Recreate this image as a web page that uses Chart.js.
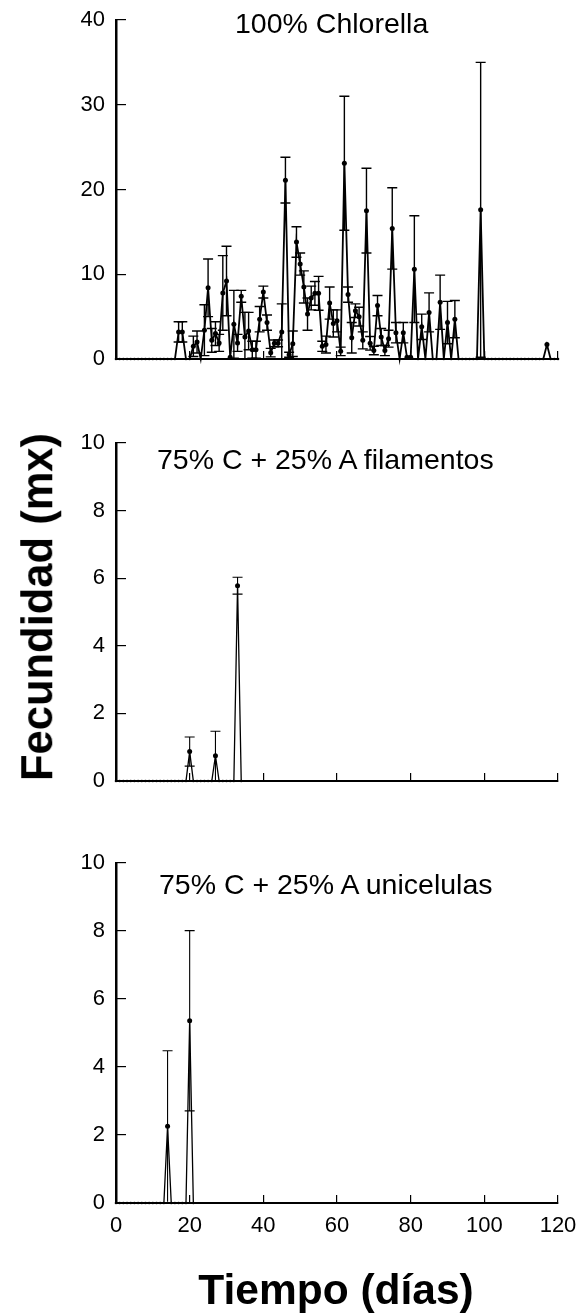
<!DOCTYPE html>
<html>
<head>
<meta charset="utf-8">
<script src="https://cdn.jsdelivr.net/npm/chart.js@4.4.1/dist/chart.umd.min.js"></script>
<style>
  html, body { margin: 0; padding: 0; background: #fff; }
  body { width: 579px; height: 1316px; position: relative; overflow: hidden;
         font-family: 'Liberation Sans', Arial, sans-serif; color: #000; }
  canvas { position: absolute; left: 0; }
  .ttl { position: absolute; font-size: 28.5px; line-height: 1; white-space: nowrap; }
  .axt { position: absolute; font-weight: bold; line-height: 1; white-space: nowrap; }
</style>
</head>
<body>
<canvas id="c1" width="579" height="390" style="top:0px"></canvas>
<canvas id="c2" width="579" height="410" style="top:400px"></canvas>
<canvas id="c3" width="579" height="496" style="top:820px"></canvas>

<div class="ttl" style="left:235px; top:9px;">100% Chlorella</div>
<div class="ttl" style="left:157px; top:445px;">75% C + 25% A filamentos</div>
<div class="ttl" style="left:159px; top:870px;">75% C + 25% A unicelulas</div>

<div class="axt" style="font-size:42.5px; left:336px; top:1269px; transform:translateX(-50%);">Tiempo (días)</div>
<div class="axt" style="font-size:43.5px; left:38px; top:607px; transform:translate(-50%,-50%) rotate(-90deg);">Fecundidad (mx)</div>

<script>
// ---------- DATA ----------
const xTicks = [0, 20, 40, 60, 80, 100, 120];

// 100% Chlorella : mean mx per day (day 0 .. 120)
const meanChlorella = [
  0,0,0,0,0,0,0,0,0,0,          // 0-9
  0,0,0,0,0,0,0,3.2,3.2,0,      // 10-19
  0,1.5,2.0,0,3.4,8.4,2.2,3.0,1.9,7.8,   // 20-29
  9.2,0.2,4.1,1.9,7.4,2.6,3.3,1.1,1.1,4.7, // 30-39
  7.9,4.3,0.75,1.85,1.85,3.2,21.1,0.5,1.8,13.8, // 40-49
  11.2,8.5,5.3,7.2,7.75,7.75,1.5,1.7,6.6,4.2,  // 50-59
  4.5,0.9,23.1,7.6,2.5,5.7,5.0,2.2,17.5,1.85, // 60-69
  1.0,6.3,2.6,1.0,2.4,15.4,3.1,0,3.1,0.2,    // 70-79
  0.2,10.6,0,3.8,0,5.5,0,0,6.7,0,            // 80-89
  4.3,0,4.7,0,0,0,0,0,0,17.6,                // 90-99
  0,0,0,0,0,0,0,0,0,0,                       // 100-109
  0,0,0,0,0,0,0,1.7,0,0,                     // 110-119
  0                                          // 120
];
const sdChlorella = [
  0,0,0,0,0,0,0,0,0,0,
  0,0,0,0,0,0,0,1.2,1.2,0,
  0,1.2,1.3,0,3.0,3.4,1.4,1.4,1.0,4.4,
  4.1,0,4.0,1.0,0.7,2.9,2.2,1.0,1.0,1.5,
  0.7,0.9,0.5,0.4,0.4,3.3,2.7,0.3,1.5,1.8,
  1.3,1.9,1.9,1.4,1.4,2.0,0.6,1.0,1.9,1.6,
  1.3,0.5,7.9,0.9,1.8,0.8,1.1,1.0,5.0,0.8,
  0.5,1.2,1.0,0.6,1.0,4.8,1.2,0,1.2,0,
  0,6.3,0,1.5,0,2.3,0,0,3.2,0,
  2.5,0,2.2,0,0,0,0,0,0,17.4,
  0,0,0,0,0,0,0,0,0,0,
  0,0,0,0,0,0,0,0,0,0,
  0
];

// 75% C + 25% A filamentos (days 0..34)
const meanFilamentos = [
  0,0,0,0,0,0,0,0,0,0,
  0,0,0,0,0,0,0,0,0,0,
  0.87,0,0,0,0,0,0,0.75,0,0,
  0,0,0,5.78,0
];
const sdFilamentos = [
  0,0,0,0,0,0,0,0,0,0,
  0,0,0,0,0,0,0,0,0,0,
  0.43,0,0,0,0,0,0,0.72,0,0,
  0,0,0,0.25,0
];

// 75% C + 25% A unicelulas (days 0..21)
const meanUnicelulas = [
  0,0,0,0,0,0,0,0,0,0,
  0,0,0,0,2.26,0,0,0,0,0,
  5.36,0
];
const sdUnicelulas = [
  0,0,0,0,0,0,0,0,0,0,
  0,0,0,0,2.22,0,0,0,0,0,
  2.65,0
];

const yTicksTop = [0, 10, 20, 30, 40];
const yTicksLow = [0, 2, 4, 6, 8, 10];

// ---------- CHARTS ----------
const FONT = "'Liberation Sans', Arial, sans-serif";
Chart.defaults.font.family = FONT;
Chart.defaults.color = '#000';

const errorBars = {
  id: 'errorBars',
  afterDatasetsDraw(chart) {
    const ds = chart.data.datasets[0];
    const xs = chart.scales.x, ys = chart.scales.y;
    const ctx = chart.ctx;
    ctx.save();
    ctx.strokeStyle = '#000';
    ctx.lineWidth = ds.errWidth;
    ds.data.forEach((p, i) => {
      const e = ds.errors[i];
      if (!e) return;
      const px = xs.getPixelForValue(p.x);
      const top = ys.getPixelForValue(p.y + e);
      const lowV = p.y - e;
      const bot = ys.getPixelForValue(Math.max(0, lowV));
      const cw = 5;
      ctx.beginPath();
      ctx.moveTo(px, top); ctx.lineTo(px, bot);
      ctx.moveTo(px - cw, top); ctx.lineTo(px + cw, top);
      if (lowV > 0.05) { ctx.moveTo(px - cw, bot); ctx.lineTo(px + cw, bot); }
      ctx.stroke();
    });
    ctx.restore();
  }
};

function makeChart(id, mean, sd, yTicks, padTop, xHeight, showX, lw, ew) {
  const pts = mean.map((v, i) => ({ x: i, y: v }));
  const yMax = yTicks[yTicks.length - 1];
  return new Chart(document.getElementById(id), {
    type: 'line',
    data: {
      datasets: [{
        data: pts,
        errors: sd,
        errWidth: ew,
        borderColor: '#000',
        borderWidth: lw,
        backgroundColor: '#000',
        pointBackgroundColor: '#000',
        pointBorderWidth: 0,
        pointRadius: ctx => (ctx.raw && ctx.raw.y > 0 ? 2.5 : 1.3),
        tension: 0,
        clip: false,
        fill: false
      }]
    },
    options: {
      responsive: false,
      animation: false,
      events: [],
      layout: { padding: { top: padTop, right: 21, left: 0, bottom: 0 } },
      plugins: { legend: { display: false }, tooltip: { enabled: false }, title: { display: false } },
      scales: {
        x: {
          type: 'linear', min: 0, max: 120,
          afterBuildTicks: s => { s.ticks = xTicks.map(v => ({ value: v })); },
          ticks: {
            padding: 18,
            font: { size: 22 },
            color: '#000',
            maxRotation: 0,
            callback: v => (showX ? String(v) : '')
          },
          grid: { drawOnChartArea: false, drawTicks: true, tickLength: -8, color: '#000', lineWidth: 1.2 },
          border: { display: true, color: '#000', width: 2 },
          afterFit: s => { s.height = xHeight; s.paddingLeft = 0; s.paddingRight = 0; }
        },
        y: {
          type: 'linear', min: 0, max: yMax,
          afterBuildTicks: s => { s.ticks = yTicks.map(v => ({ value: v })); },
          ticks: { padding: 21, font: { size: 22 }, color: '#000' },
          grid: { drawOnChartArea: false, drawTicks: true, tickLength: -10, color: '#000', lineWidth: 1.2 },
          border: { display: true, color: '#000', width: 2.5 },
          afterFit: s => { s.width = 116; s.paddingTop = 0; s.paddingBottom = 0; }
        }
      }
    },
    plugins: [errorBars]
  });
}

makeChart('c1', meanChlorella, sdChlorella, yTicksTop, 20, 31, false, 1.8, 1.4);
makeChart('c2', meanFilamentos, sdFilamentos, yTicksLow, 43, 29, false, 1.3, 1.1);
makeChart('c3', meanUnicelulas, sdUnicelulas, yTicksLow, 43, 113, true, 1.3, 1.1);
</script>
</body>
</html>
